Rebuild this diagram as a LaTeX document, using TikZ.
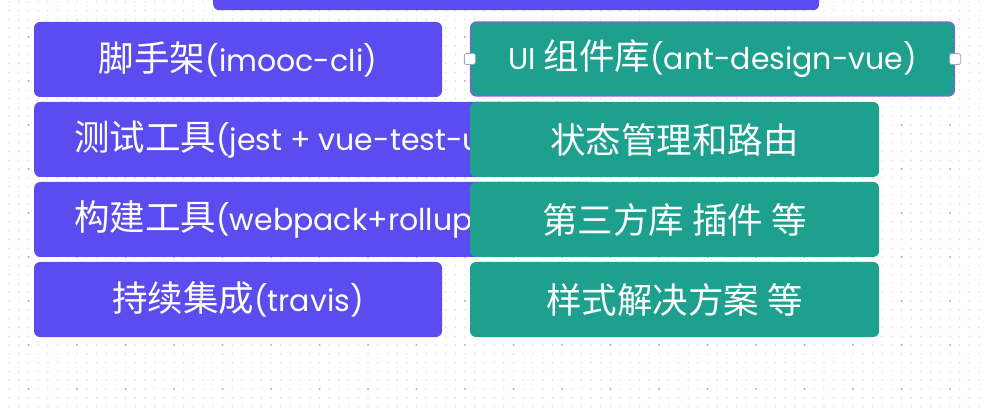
\documentclass[tikz,border=0pt]{standalone}
\usepackage{fontspec}
\setmainfont{Poppins}
\newfontfamily\cjkfam{Noto Sans CJK SC}
\newcommand\zh[1]{{\fontsize{35.5}{40}\cjkfam #1}}
\definecolor{pur}{RGB}{91,76,240}
\definecolor{tea}{RGB}{29,160,142}
\definecolor{selb}{RGB}{140,96,220}
\definecolor{dotl}{RGB}{212,212,218}
\definecolor{dotd}{RGB}{180,180,186}
\tikzset{
  pbox/.style={fill=pur, rounded corners=6pt, inner sep=0pt, text=white, font=\fontsize{30}{34}\selectfont},
  tbox/.style={fill=tea, rounded corners=6pt, inner sep=0pt, text=white, font=\fontsize{30}{34}\selectfont},
  lbl/.style={text=white, inner sep=0pt, font=\fontsize{30}{34}\selectfont},
  handle/.style={draw=gray!70, fill=white, rounded corners=1.5pt, minimum size=11pt, inner sep=0pt, line width=0.8pt}
}
\begin{document}
\begin{tikzpicture}[x=1pt,y=-1pt]
\useasboundingbox (0,0) rectangle (987,411);
\clip (0,0) rectangle (987,411);
\fill[white] (0,0) rectangle (987,411);
% dot grid
\foreach \i in {0,...,101}{
  \foreach \j in {0,...,47}{
    \fill[dotl] (28.5-9.7*3+9.7*\i, 37-8.8*4+8.8*\j) circle (0.75);
  }
}
\foreach \i in {0,...,20}{
  \foreach \j in {0,...,9}{
    \fill[dotd] (28.5+48.5*\i-48.5, 37+44*\j-44) circle (1.2);
  }
}
% top bar
\node[pbox, anchor=north west, minimum width=606pt, minimum height=30pt] (top) at (213,-20) {};
% left column
\node[pbox, minimum width=408pt, minimum height=75pt] (b1) at (238,59.5) {\zh{脚手架}(imooc-cli)};
\node[pbox, anchor=west, minimum width=560pt, minimum height=75pt] (b2) at (34,139.5) {};
\node[lbl, anchor=west] (t2) at (74,139.5) {\zh{测试工具}(jest + vue-test-utils)};
\node[pbox, anchor=west, minimum width=560pt, minimum height=75pt] (b3) at (34,219.5) {};
\node[lbl, anchor=west] (t3) at (74,219.5) {\zh{构建工具}(webpack+rollup)};
\node[pbox, minimum width=408pt, minimum height=75pt] (b4) at (238,299.5) {\zh{持续集成}(travis)};
% right column
\node[tbox, draw=selb, line width=1.3pt, minimum width=484pt, minimum height=74pt] (r1) at (712.5,59) {UI \zh{组件库}(ant-design-vue)};
\node[tbox, minimum width=409pt, minimum height=75pt] (r2) at (674.5,139.5) {\zh{状态管理和路由}};
\node[tbox, minimum width=409pt, minimum height=75pt] (r3) at (674.5,219.5) {\zh{第三方库 插件 等}};
\node[tbox, minimum width=409pt, minimum height=75pt] (r4) at (674.5,299.5) {\zh{样式解决方案 等}};
% handles
\node[handle] (h1) at (r1.west) {};
\node[handle] (h2) at (r1.east) {};
\end{tikzpicture}
\end{document}
